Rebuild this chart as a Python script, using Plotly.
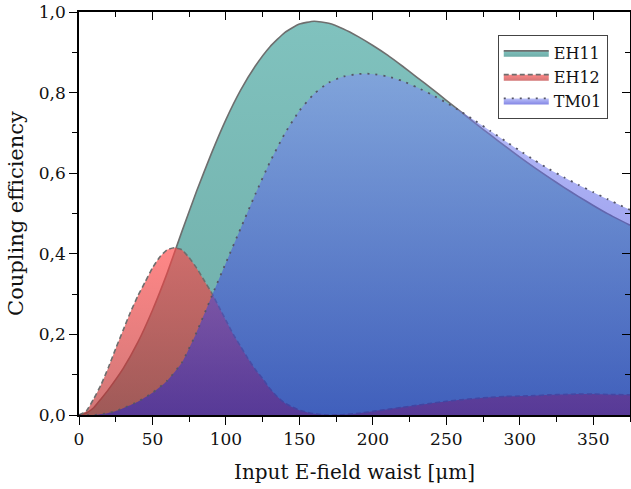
import plotly.graph_objects as go

# ---- data ----
waist_eh11 = [0, 5, 10, 15, 20, 30, 40, 50, 60, 70, 80, 90, 100, 110, 120, 130, 140, 150, 160, 170, 180, 190,
              200, 210, 220, 230, 240, 250, 260, 270, 280, 290, 300, 310, 320, 330, 340, 350, 360, 375]
eh11 = [0, 0.005, 0.018, 0.04, 0.063, 0.115, 0.18, 0.26, 0.352, 0.455, 0.555, 0.648, 0.733, 0.806, 0.866, 0.914,
        0.949, 0.97, 0.977, 0.972, 0.958, 0.939, 0.917, 0.893, 0.866, 0.838, 0.81, 0.781, 0.752, 0.723, 0.695,
        0.667, 0.64, 0.614, 0.589, 0.565, 0.542, 0.52, 0.499, 0.471]

waist_eh12 = [0, 5, 10, 15, 20, 25, 30, 35, 40, 45, 50, 55, 60, 65, 70, 75, 80, 85, 90, 95, 100, 105, 110, 115, 120,
              125, 130, 135, 140, 145, 150, 155, 160, 165, 170, 180, 190, 200, 210, 220, 230, 240, 250, 260, 270,
              280, 290, 300, 310, 320, 330, 340, 350, 360, 375]
eh12 = [0, 0.01, 0.04, 0.075, 0.118, 0.165, 0.21, 0.255, 0.295, 0.33, 0.365, 0.392, 0.41, 0.415, 0.41, 0.39,
        0.365, 0.335, 0.305, 0.27, 0.235, 0.2, 0.17, 0.14, 0.113, 0.09, 0.065, 0.045, 0.03, 0.02, 0.012, 0.007,
        0.003, 0.001, 0, 0.001, 0.004, 0.009, 0.014, 0.019, 0.024, 0.029, 0.034, 0.038, 0.041, 0.044, 0.046,
        0.047, 0.048, 0.05, 0.051, 0.052, 0.052, 0.051, 0.05]

waist_tm01 = [0, 10, 20, 25, 30, 40, 50, 60, 70, 80, 90, 100, 110, 120, 130, 140, 150, 160, 170, 180, 190, 195,
              200, 210, 220, 230, 240, 250, 260, 270, 280, 290, 300, 310, 320, 330, 340, 350, 360, 375]
tm01 = [0, 0.0, 0.005, 0.01, 0.017, 0.033, 0.055, 0.085, 0.13, 0.205, 0.292, 0.378, 0.463, 0.548, 0.628, 0.698,
        0.755, 0.797, 0.825, 0.84, 0.846, 0.847, 0.846, 0.84, 0.829, 0.813, 0.795, 0.775, 0.753, 0.729, 0.705,
        0.68, 0.656, 0.632, 0.61, 0.59, 0.571, 0.553, 0.535, 0.509]

series_names = ["EH11", "EH12", "TM01"]
x_ticks = [0, 50, 100, 150, 200, 250, 300, 350]
y_ticks = [0.0, 0.2, 0.4, 0.6, 0.8, 1.0]

FONT = "DejaVu Serif"

fig = go.Figure()

fig.add_trace(go.Scatter(
    x=waist_eh11, y=eh11, name=series_names[0], mode="lines",
    line=dict(color="#6e6e6e", width=1.6, shape="spline", smoothing=0.5),
    fill="tozeroy",
    fillgradient=dict(type="vertical",
                      colorscale=[[0, "rgb(110,172,167)"], [1, "rgb(128,194,190)"]]),
))
fig.add_trace(go.Scatter(
    x=waist_eh12, y=eh12, name=series_names[1], mode="lines",
    line=dict(color="#6e6e6e", width=1.6, dash="5px,3px", shape="spline", smoothing=0.5),
    fill="tozeroy",
    fillgradient=dict(type="vertical",
                      colorscale=[[0, "rgba(185,45,45,0.65)"], [1, "rgba(255,70,70,0.65)"]]),
))
fig.add_trace(go.Scatter(
    x=waist_tm01, y=tm01, name=series_names[2], mode="lines",
    line=dict(color="#555566", width=1.8, dash="2px,6px", shape="spline", smoothing=0.5),
    fill="tozeroy",
    fillgradient=dict(type="vertical",
                      colorscale=[[0, "rgba(25,30,205,0.54)"], [1, "rgba(130,140,245,0.54)"]]),
))
# carrier for the mirrored (inward-tick) top/right axes
fig.add_trace(go.Scatter(x=[None], y=[None], xaxis="x2", yaxis="y2", mode="none",
                         showlegend=False, hoverinfo="skip"))

tickfont = dict(family=FONT, size=17, color="#111")
fig.update_layout(
    width=631, height=489,
    margin=dict(l=79, r=1, t=12, b=74, autoexpand=False),
    paper_bgcolor="white", plot_bgcolor="white",
    separators=",.",
    showlegend=True,
    font=dict(family=FONT, color="#111"),
    legend=dict(x=0.76, y=0.943, xanchor="left", yanchor="top",
                bgcolor="white", bordercolor="#444", borderwidth=1,
                font=dict(family=FONT, size=16, color="#111"),
                itemwidth=45, tracegroupgap=0),
    xaxis=dict(range=[0, 375], tickvals=x_ticks, ticks="outside", ticklen=8, tickwidth=1.3,
               tickcolor="black", showline=True, linecolor="black", linewidth=1.5, mirror=True,
               showgrid=False, zeroline=False, tickfont=tickfont, automargin=False,
               minor=dict(dtick=25, ticks="outside", ticklen=5, tickwidth=1.2, tickcolor="black"),
               title=dict(text="Input E-field waist [μm]", font=dict(family=FONT, size=20), standoff=17)),
    yaxis=dict(range=[0, 1.0], tickvals=y_ticks, tickformat=".1f", ticks="outside", ticklen=8,
               tickwidth=1.3, tickcolor="black", showline=True, linecolor="black", linewidth=1.5,
               mirror=True, showgrid=False, zeroline=False, tickfont=tickfont, automargin=False,
               minor=dict(dtick=0.1, ticks="outside", ticklen=5, tickwidth=1.2, tickcolor="black"),
               title=dict(text="Coupling efficiency", font=dict(family=FONT, size=21), standoff=9)),
    xaxis2=dict(overlaying="x", side="top", anchor="y", range=[0, 375], tickvals=x_ticks,
                ticks="inside", ticklen=8, tickwidth=1.3, tickcolor="black", showticklabels=False,
                showgrid=False, zeroline=False, showline=False, automargin=False,
                minor=dict(dtick=25, ticks="inside", ticklen=5, tickwidth=1.2, tickcolor="black")),
    yaxis2=dict(overlaying="y", side="right", anchor="x", range=[0, 1.0], tickvals=y_ticks,
                ticks="inside", ticklen=8, tickwidth=1.3, tickcolor="black", showticklabels=False,
                showgrid=False, zeroline=False, showline=False, automargin=False,
                minor=dict(dtick=0.1, ticks="inside", ticklen=5, tickwidth=1.2, tickcolor="black")),
)

# remove the browser's default 8px page margin so the figure sits at the window's corner
fig.write_html("out.html", config={"displayModeBar": False},
               post_script="document.body.style.margin='0';document.body.style.overflow='hidden';")
